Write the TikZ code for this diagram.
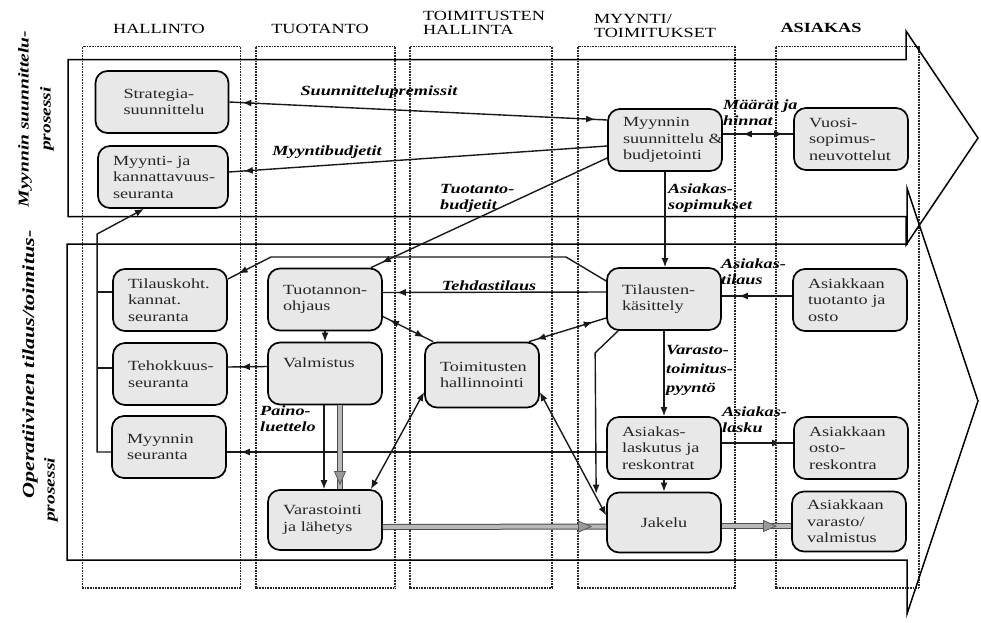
\documentclass[tikz,border=0pt]{standalone}
\usepackage{fontspec}
\setmainfont{Liberation Serif}[FakeStretch=1.3]
\usetikzlibrary{arrows.meta,decorations.markings,calc}
\begin{document}
\begin{tikzpicture}[x=1pt,y=-1pt,
  >={Latex[length=9pt,width=7pt]},
  lane/.style={draw=black!85, line width=1.7pt, dash pattern=on 1pt off 0.6pt},
  procarrow/.style={draw=black, line width=1.5pt, line join=miter, miter limit=10},
  task/.style={draw=black, line width=1.7pt, fill=black!9, rounded corners=12pt,
     text width=84pt, inner xsep=15pt, inner ysep=0pt, minimum height=62pt, align=left,
     font=\fontsize{14}{16.5}\selectfont, text=black!85,
     execute at begin node={\hyphenpenalty=10000\exhyphenpenalty=10000}},
  flow/.style={draw=black!90, line width=1.4pt},
  tipend/.style={postaction={decorate,decoration={markings,mark=at position -#1 with {\arrow{>}}}}},
  tipstart/.style={postaction={decorate,decoration={markings,mark=at position #1 with {\arrowreversed{>}}}}},
  bigflow/.style={draw=black!70, line width=1pt, double=black!28, double distance=4pt},
  bigtip/.style={decorate,decoration={markings,mark=at position -#1 with {\arrow[black!65, line width=0.8pt]{Triangle[length=14pt,width=12pt,fill=black!40]}}}},
  lbl/.style={font=\fontsize{14}{16}\selectfont\bfseries\itshape, align=left, inner sep=0pt},
  hdr/.style={font=\fontsize{14}{14}\selectfont, align=left, inner sep=0pt},
  sidelbl/.style={font=\fontsize{15}{22}\selectfont\bfseries\itshape, rotate=90, inner sep=0pt},
]
\useasboundingbox (0,0) rectangle (981,622);

% organisational columns
\draw[lane] (82.5,46.5) rectangle (240.5,588);
\draw[lane] (256,46.5) rectangle (395,588);
\draw[lane] (410,46.5) rectangle (552,588);
\draw[lane] (578,46.5) rectangle (735,588);
\draw[lane] (776,46.5) rectangle (919,588);

% process arrows
\draw[procarrow] (68,59.5) -- (906,59.5) -- (906,31) -- (978,138) -- (906,245) -- (906,216.5) -- (68,216.5) -- cycle;
\draw[procarrow] (67,244) -- (907,244) -- (907,188) -- (978,401) -- (907,614) -- (907,560) -- (67,560) -- cycle;

% column headers
\node[hdr] (hHal) at (159,29) {HALLINTO};
\node[hdr] (hTuo) at (320,29) {TUOTANTO};
\node[hdr] (hToi) at (484,23) {TOIMITUSTEN\\HALLINTA};
\node[hdr] (hMyy) at (655,26) {MYYNTI/\\TOIMITUKSET};
\node[hdr, font=\fontsize{14}{14}\selectfont\bfseries] (hAsi) at (821,28) {ASIAKAS};

% process names
\node[sidelbl, align=center] (sPlan) at (36,119) {Myynnin suunnittelu-\\prosessi};
\node[sidelbl, font=\fontsize{17}{22}\selectfont\bfseries\itshape, anchor=west] (sOper) at (30,499) {Operatiivinen tilaus/toimitus-};
\node[sidelbl, anchor=west] (sOperB) at (51,522) {prosessi};

% tasks
\node[task, text width=77pt, inner xsep=28pt] (strat) at (162,102) {Strategia-\\suunnittelu};
\node[task, text width=100pt] (myyka) at (163,177) {Myynti- ja\\kannattavuus-\\seuranta};
\node[task] (myysu) at (665,140) {Myynnin\\suunnittelu~\&\\budjetointi};
\node[task] (vuosi) at (851,139) {Vuosi-\\sopimus-\\neuvottelut};
\node[task] (tilko) at (170,300) {Tilauskoht.\\kannat.\\seuranta};
\node[task] (tuoo) at (325,299.5) {Tuotannon-\\ohjaus};
\node[task] (teho) at (170,374) {Tehokkuus-\\seuranta};
\node[task] (valm) at (325,373.5) {Valmistus\\\strut};
\node[task, minimum height=65pt] (toim) at (482,375) {Toimitusten\\hallinnointi};
\node[task] (tilk) at (664,299) {Tilausten-\\käsittely};
\node[task] (astu) at (850,300) {Asiakkaan\\tuotanto ja\\osto};
\node[task] (myse) at (169,447) {Myynnin\\seuranta};
\node[task] (lask) at (664,448) {Asiakas-\\laskutus ja\\reskontrat};
\node[task] (osto) at (851,448) {Asiakkaan\\osto-\\reskontra};
\node[task, minimum height=60pt] (vara) at (325,520) {Varastointi\\ja lähetys};
\node[task, minimum height=60pt, align=center] (jak) at (664,522.5) {Jakelu};
\node[task, minimum height=60pt] (asva) at (849,521.5) {Asiakkaan\\varasto/\\valmistus};

% planning flows
\draw[flow, tipstart=13pt, tipend=12pt] (strat.east) -- ($(myysu.west)+(0,-20)$);
\draw[flow, tipend=15pt] ($(myysu.west)+(0,6)$) -- ($(myyka.east)+(0,-5)$);
\draw[flow, tipend=12pt] ($(myysu.west)+(0,18)$) -- ($(tuoo.north east)+(-12,0)$);
\draw[flow, tipstart=20pt, tipend=10pt] ($(myysu.east)+(0,-6)$) -- ($(vuosi.west)+(0,-5)$);
\draw[flow, ->] (myysu.south) -- (myysu.south |- tilk.north);

% order flows
\draw[flow, tipend=12pt] ($(tilk.west)+(0,-18)$) -- (566,257) -- (271,257) -- ($(tilko.east)+(0,-21)$);
\draw[flow, tipend=14pt] ($(tilk.west)+(0,-7)$) -- ($(tuoo.east)+(0,-7)$);
\draw[flow, tipend=17pt] ($(astu.west)+(0,-4)$) -- ($(tilk.east)+(0,-3)$);
\draw[flow, ->] (tuoo.south) -- (valm.north);
\draw[flow, tipend=13pt] ($(valm.west)+(0,-7)$) -- ($(teho.east)+(0,-7)$);
\draw[flow, tipstart=8pt, tipend=10pt] ($(tuoo.east)+(0,17)$) -- ($(toim.north west)+(9,0)$);
\draw[flow, tipstart=14pt, tipend=8pt] ($(tilk.west)+(0,19)$) -- ($(toim.north east)+(-11,0)$);
\draw[flow, <->] ($(toim.west)+(0,17)$) -- ($(vara.north east)+(-12,0)$);
\draw[flow, <->] ($(toim.east)+(0,17)$) -- ($(jak.west)+(0,-7)$);
\draw[flow, ->] (tilk.south) -- (lask.north);
\draw[flow, ->] ($(tilk.south west)+(12,0)$) -- ++(-23,22) -- ($(jak.north west)+(-10,2)$);
\draw[flow, ->] (lask.south) -- (jak.north);
\draw[flow, tipend=12pt] ($(lask.east)+(0,-5)$) -- ($(osto.west)+(0,-5)$);
\draw[flow, tipend=14pt] ($(lask.west)+(0,4)$) -- ($(myse.east)+(0,5)$);
\draw[flow, ->] ($(valm.south)+(-1,0)$) -- ($(vara.north)+(-1,0)$);

% follow-up feedback to sales and profitability monitoring
\draw[flow, ->] ($(myse.west)+(0,5)$) -- ++(-14,0) -- ++(0,-218) -- ($(myyka.south)+(-19,0)$);
\draw[flow] ($(tilko.west)+(0,-8)$) -- ++(-15,0);
\draw[flow] ($(teho.west)+(0,-6)$) -- ++(-15,0);

% material flows
\draw[bigflow] ($(valm.south)+(15,0)$) -- ($(vara.north)+(15,0)$);
\path[bigtip=4pt] ($(valm.south)+(15,0)$) -- ($(vara.north)+(15,0)$);
\draw[bigflow] ($(vara.east)+(0,7)$) -- ($(jak.west)+(0,4)$);
\path[bigtip=14pt] ($(vara.east)+(0,7)$) -- ($(jak.west)+(0,4)$);
\draw[bigflow] ($(jak.east)+(0,3.5)$) -- ($(asva.west)+(0,4.5)$);
\path[bigtip=14pt] ($(jak.east)+(0,3.5)$) -- ($(asva.west)+(0,4.5)$);

% flow labels
\node[lbl] (l1) at (379,92) {Suunnittelupremissit};
\node[lbl] (l2) at (327,152.5) {Myyntibudjetit};
\node[lbl, anchor=west] (l3) at (440,198) {Tuotanto-\\budjetit};
\node[lbl, anchor=south] (l4) at (489,291) {Tehdastilaus};
\node[lbl, anchor=west] (l5) at (721,272) {Asiakas-\\tilaus};
\node[lbl, anchor=west] (l6) at (668,198) {Asiakas-\\sopimukset};
\node[lbl, anchor=west] (l7) at (723,113) {Määrät ja\\hinnat};
\node[lbl, anchor=west, font=\fontsize{14}{19}\selectfont\bfseries\itshape] (l8) at (666,370) {Varasto-\\toimitus-\\pyyntö};
\node[lbl, anchor=west] (l9) at (722,420) {Asiakas-\\lasku};
\node[lbl, anchor=west] (l10) at (260,419) {Paino-\\luettelo};
\end{tikzpicture}
\end{document}
